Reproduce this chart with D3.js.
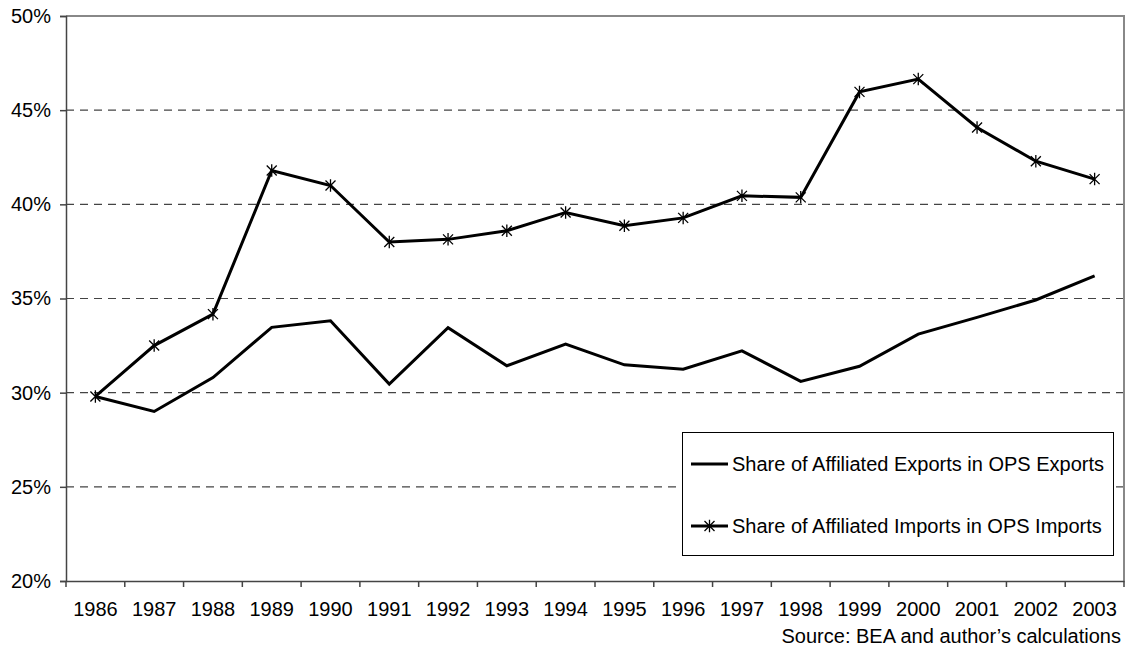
<!DOCTYPE html>
<html>
<head>
<meta charset="utf-8">
<script src="https://cdn.jsdelivr.net/npm/d3@7/dist/d3.min.js"></script>
<style>
  html, body { margin: 0; padding: 0; background: #fff; }
  svg { display: block; font-family: "Liberation Sans", Arial, sans-serif; }
</style>
</head>
<body>
<svg id="chart" width="1130" height="650"></svg>
<script>
// Years on the category axis
const years = ["1986","1987","1988","1989","1990","1991","1992","1993","1994",
               "1995","1996","1997","1998","1999","2000","2001","2002","2003"];

// Share of affiliated exports in OPS exports (%)
const exportsShare = [29.8, 29.0, 30.8, 33.47, 33.82, 30.46, 33.45, 31.43, 32.58,
                      31.48, 31.25, 32.22, 30.6, 31.4, 33.11, 34.0, 34.92, 36.2];

// Share of affiliated imports in OPS imports (%)
const importsShare = [29.8, 32.5, 34.17, 41.8, 41.0, 38.0, 38.14, 38.6, 39.57,
                      38.86, 39.28, 40.45, 40.37, 45.97, 46.65, 44.08, 42.29, 41.34];

const yTicks = [20, 25, 30, 35, 40, 45, 50];

const seriesNames = [
  "Share of Affiliated Exports in OPS Exports",
  "Share of Affiliated Imports in OPS Imports"
];
const sourceNote = "Source: BEA and author\u2019s calculations";

const FONT = 20;
const svg = d3.select("#chart");
const m = { left: 66, right: 1124, top: 16, bottom: 581 };

const x = d3.scaleBand().domain(years).range([m.left, m.right]).padding(0);
const y = d3.scaleLinear().domain([20, 50]).range([m.bottom, m.top]);
const cx = d => x(d) + x.bandwidth() / 2;

// Dashed horizontal gridlines
svg.append("g")
  .selectAll("line")
  .data(yTicks.filter(t => t > 20 && t < 50))
  .join("line")
  .attr("x1", m.left).attr("x2", m.right)
  .attr("y1", d => y(d)).attr("y2", d => y(d))
  .attr("stroke", "#444").attr("stroke-width", 1.2)
  .attr("stroke-dasharray", "8,6");

// Top and right frame
svg.append("path")
  .attr("d", `M${m.left},${m.top}H${m.right}V${m.bottom}`)
  .attr("fill", "none").attr("stroke", "#888").attr("stroke-width", 2);

// Y axis
const yAxis = svg.append("g")
  .attr("transform", `translate(${m.left},0)`)
  .call(d3.axisLeft(y).tickValues(yTicks).tickFormat(d => d + "%").tickSize(6).tickPadding(9));
yAxis.select(".domain").attr("stroke", "#444").attr("stroke-width", 1.5);
yAxis.selectAll(".tick line").attr("stroke", "#444").attr("stroke-width", 1.5);
yAxis.selectAll("text").attr("font-size", FONT).attr("fill", "#000")
  .attr("font-family", "'Liberation Sans', Arial, sans-serif");

// X axis: ticks sit on the category boundaries
const xAxis = svg.append("g")
  .attr("transform", `translate(0,${m.bottom})`)
  .call(d3.axisBottom(x).tickSize(0).tickPadding(21));
xAxis.select(".domain").attr("stroke", "#444").attr("stroke-width", 1.5);
xAxis.selectAll("text").attr("font-size", FONT).attr("fill", "#000")
  .attr("font-family", "'Liberation Sans', Arial, sans-serif");
xAxis.append("g").selectAll("line")
  .data(years.concat([null]))
  .join("line")
  .attr("x1", (d, i) => m.left + i * x.step())
  .attr("x2", (d, i) => m.left + i * x.step())
  .attr("y1", 0).attr("y2", 6)
  .attr("stroke", "#444").attr("stroke-width", 1.5);

// Lines
const line = d3.line().x((d, i) => cx(years[i])).y(d => y(d));

svg.append("path").datum(exportsShare)
  .attr("d", line).attr("fill", "none")
  .attr("stroke", "#000").attr("stroke-width", 3).attr("stroke-linejoin", "miter");

svg.append("path").datum(importsShare)
  .attr("d", line).attr("fill", "none")
  .attr("stroke", "#000").attr("stroke-width", 3).attr("stroke-linejoin", "miter");

// Asterisk marker: an X crossed by a vertical stroke
function starPath(px, py, r) {
  return `M${px - r},${py - r}L${px + r},${py + r}` +
         `M${px - r},${py + r}L${px + r},${py - r}` +
         `M${px},${py - r * 1.25}L${px},${py + r * 1.25}`;
}

svg.append("g").selectAll("path")
  .data(importsShare)
  .join("path")
  .attr("d", (d, i) => starPath(cx(years[i]), y(d), 5))
  .attr("stroke", "#000").attr("stroke-width", 1.3).attr("fill", "none");

// Legend
const lg = svg.append("g");
lg.append("rect")
  .attr("x", 682.5).attr("y", 432.5).attr("width", 431).attr("height", 123)
  .attr("fill", "#fff").attr("stroke", "#000").attr("stroke-width", 1);

const legendRows = [
  { name: seriesNames[0], y: 464, star: false },
  { name: seriesNames[1], y: 526, star: true }
];
legendRows.forEach(r => {
  lg.append("line")
    .attr("x1", 691).attr("x2", 728).attr("y1", r.y).attr("y2", r.y)
    .attr("stroke", "#000").attr("stroke-width", 3);
  if (r.star) {
    lg.append("path").attr("d", starPath(709.5, r.y, 5))
      .attr("stroke", "#000").attr("stroke-width", 1.3).attr("fill", "none");
  }
  lg.append("text")
    .attr("x", 732).attr("y", r.y).attr("dy", "0.35em")
    .attr("font-size", FONT).attr("fill", "#000")
    .text(r.name);
});

// Source note
svg.append("text")
  .attr("x", 1121).attr("y", 643)
  .attr("text-anchor", "end")
  .attr("font-size", FONT).attr("fill", "#000")
  .text(sourceNote);
</script>
</body>
</html>
